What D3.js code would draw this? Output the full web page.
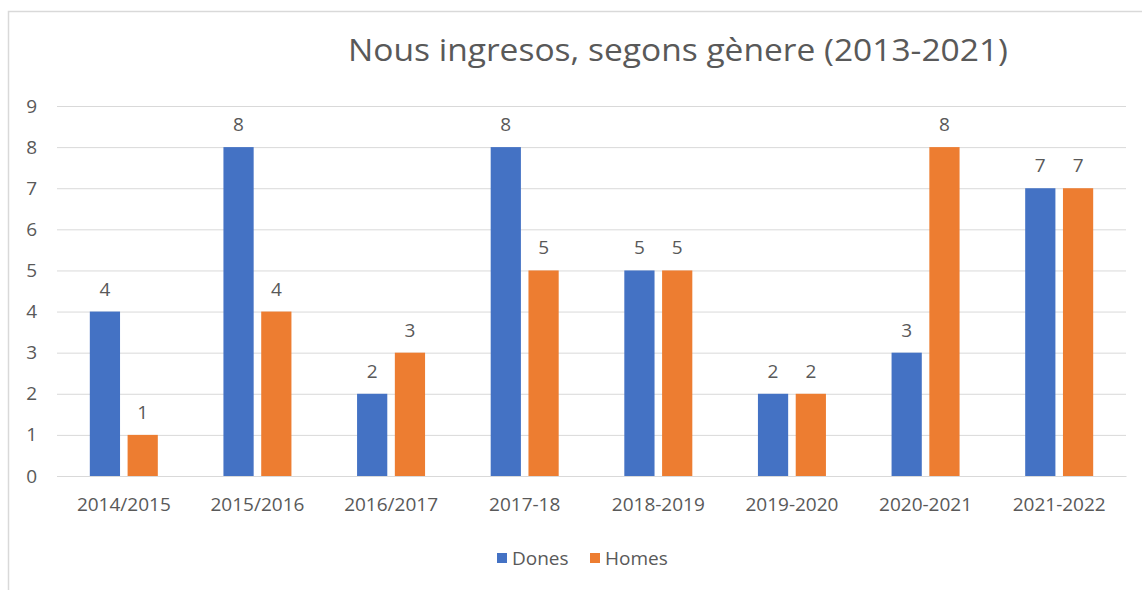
<!DOCTYPE html>
<html>
<head>
<meta charset="utf-8">
<script src="https://cdn.jsdelivr.net/npm/d3@7"></script>
<style>
  body { margin: 0; background: #fff; }
  text { font-family: "Open Sans", "Noto Sans", sans-serif; fill: #595959; }
</style>
</head>
<body>
<svg width="1142" height="590"></svg>
<script>
// data
var categories = ['2014/2015', '2015/2016', '2016/2017', '2017-18',
                  '2018-2019', '2019-2020', '2020-2021', '2021-2022'];
var dones = [4, 8, 2, 8, 5, 2, 3, 7];
var homes = [1, 4, 3, 5, 5, 2, 8, 7];
var seriesNames = ['Dones', 'Homes'];
var seriesColors = ['#4472C4', '#ED7D31'];
var yTicks = [0, 1, 2, 3, 4, 5, 6, 7, 8, 9];

var rows = categories.map(function(c, i) {
  return {cat: c, Dones: dones[i], Homes: homes[i]};
});

var margin = {left: 57, right: 16, top: 106, bottom: 114},
    width = 1142 - margin.left - margin.right,
    height = 590 - margin.top - margin.bottom;

var svg = d3.select('svg');

// chart frame (cut off at right / bottom)
svg.append('rect')
   .attr('x', 8.5).attr('y', 11.5)
   .attr('width', 1300).attr('height', 800)
   .attr('fill', 'none')
   .attr('stroke', '#d9d9d9')
   .attr('stroke-width', 1.5);

svg.append('text')
   .attr('x', 678).attr('y', 61)
   .attr('text-anchor', 'middle')
   .attr('textLength', 660)
   .attr('lengthAdjust', 'spacingAndGlyphs')
   .style('font-size', '31px')
   .text('Nous ingresos, segons gènere (2013-2021)');

var g = svg.append('g')
   .attr('transform', 'translate(' + margin.left + ',' + margin.top + ')');

var x0 = d3.scaleBand().domain(categories).range([0, width]);
var bw = x0.bandwidth();
var x1 = d3.scaleBand().domain(seriesNames)
   .range([bw / 2 - 34, bw / 2 + 34]).paddingInner(0.2);
var y = d3.scaleLinear().domain([0, 9]).range([height, 0]);
var color = d3.scaleOrdinal().domain(seriesNames).range(seriesColors);

// gridlines + y labels
var yAxis = d3.axisLeft(y).tickValues(yTicks).tickSize(-width).tickPadding(20);
g.append('g').attr('class', 'y axis').call(yAxis)
 .call(function(a) {
   a.select('.domain').remove();
   a.selectAll('line').attr('stroke', '#d9d9d9');
   a.selectAll('text').style('font-size', '19px').style('font-family', '"Open Sans", sans-serif')
    .attr('fill', '#595959');
 });

// x labels
var xAxis = d3.axisBottom(x0).tickSize(0).tickPadding(22);
g.append('g').attr('transform', 'translate(0,' + height + ')').call(xAxis)
 .call(function(a) {
   a.select('.domain').attr('stroke', '#d9d9d9');
   a.selectAll('text').style('font-size', '19px').style('font-family', '"Open Sans", sans-serif')
    .attr('fill', '#595959');
 });

var groups = g.selectAll('.grp')
   .data(rows).enter().append('g')
   .attr('transform', function(d) { return 'translate(' + x0(d.cat) + ',0)'; });

var bars = groups.selectAll('rect')
   .data(function(d) { return seriesNames.map(function(k) { return {key: k, value: d[k]}; }); })
   .enter();

bars.append('rect')
   .attr('x', function(d) { return x1(d.key); })
   .attr('y', function(d) { return y(d.value); })
   .attr('width', x1.bandwidth())
   .attr('height', function(d) { return height - y(d.value); })
   .attr('fill', function(d) { return color(d.key); });

bars.append('text')
   .attr('x', function(d) { return x1(d.key) + x1.bandwidth() / 2; })
   .attr('y', function(d) { return y(d.value) - 16; })
   .attr('text-anchor', 'middle')
   .style('font-size', '19px')
   .text(function(d) { return d.value; });

// legend
var legend = svg.append('g').attr('transform', 'translate(497,558)');
var items = legend.selectAll('g').data(seriesNames).enter().append('g')
   .attr('transform', function(d, i) { return 'translate(' + (i * 93) + ',0)'; });
items.append('rect')
   .attr('x', 0).attr('y', -5).attr('width', 10).attr('height', 10)
   .attr('fill', function(d) { return color(d); });
items.append('text')
   .attr('x', 15).attr('y', 7)
   .style('font-size', '19px')
   .text(function(d) { return d; });
</script>
</body>
</html>
